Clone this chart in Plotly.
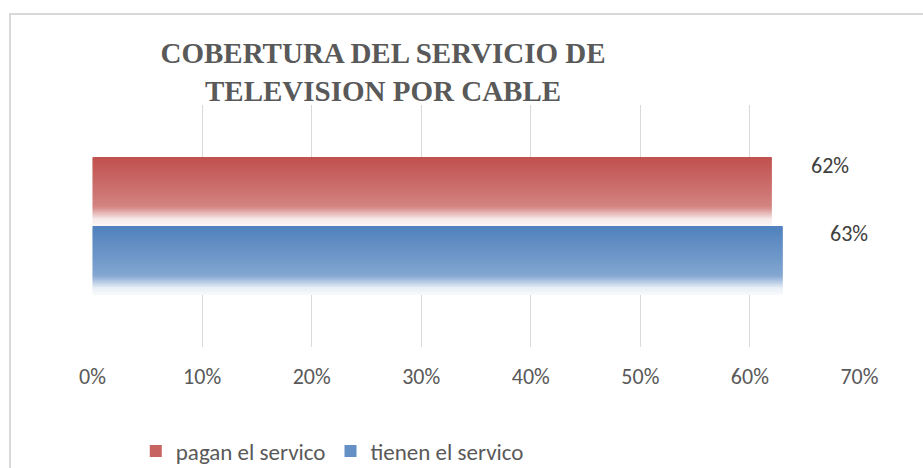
import plotly.graph_objects as go

# ---------------- data ----------------
categories = ["Cobertura"]
series_names = ["pagan el servico", "tienen el servico"]
pagan_values = [0.62]
tienen_values = [0.63]
tick_values = [0.0, 0.1, 0.2, 0.3, 0.4, 0.5, 0.6, 0.7]
tick_labels = ["0%", "10%", "20%", "30%", "40%", "50%", "60%", "70%"]
title_lines = ["COBERTURA DEL SERVICIO DE", "TELEVISION POR CABLE"]

# ---------------- style ----------------
RED = (192, 80, 77)
BLUE = (79, 129, 189)
# (position from top of bar, share of white mixed in)
GRAD_STOPS = [(0.0, 0.0), (0.5, 0.2), (0.72, 0.3), (0.8, 0.55), (0.9, 0.88), (1.0, 0.96)]
BAR_H = 0.285          # bar thickness in category units
N_SLICES = 36
TEXT_FONT = "Carlito, Lato, Open Sans, sans-serif"
GRID = "#D9D9D9"


def tint(base, t):
    for (t0, m0), (t1, m1) in zip(GRAD_STOPS[:-1], GRAD_STOPS[1:]):
        if t0 <= t <= t1:
            m = m0 + (m1 - m0) * (t - t0) / (t1 - t0)
            break
    else:
        m = GRAD_STOPS[-1][1]
    r, g, b = (round(c + (255 - c) * m) for c in base)
    return f"rgb({r},{g},{b})"


fig = go.Figure()


def add_gradient_bar(name, values, base, top):
    h = BAR_H / N_SLICES
    legend_i = int(0.3 * N_SLICES)
    for i in range(N_SLICES):
        t = (i + 0.5) / N_SLICES
        ext = 0.4 * h if i < N_SLICES - 1 else 0.0
        fig.add_trace(go.Bar(
            x=values, y=categories, orientation="h",
            width=h + ext, offset=top - (i + 1) * h - ext,
            marker=dict(color=tint(base, t), line=dict(width=0)),
            name=name, legendgroup=name, showlegend=(i == legend_i),
            hoverinfo="skip",
        ))


add_gradient_bar(series_names[0], pagan_values, RED, BAR_H)
add_gradient_bar(series_names[1], tienen_values, BLUE, 0.0)

# data labels
label_shifts = [(58, 61), (66, -7)]
for vals, (dx, dy) in zip([pagan_values, tienen_values], label_shifts):
    for cat, v in zip(categories, vals):
        fig.add_annotation(
            x=v, y=cat, xref="x", yref="y", text=f"{round(v * 100)}%",
            showarrow=False, xanchor="center", yanchor="middle",
            xshift=dx, yshift=dy,
            font=dict(family=TEXT_FONT, size=22, color="#404040"),
        )

# chart border
fig.add_shape(type="rect", xref="paper", yref="paper",
              x0=-0.1068, x1=2.0, y0=-2.0, y1=1.376,
              line=dict(color=GRID, width=2), fillcolor="rgba(0,0,0,0)", layer="below")

fig.update_layout(
    width=923, height=468,
    margin=dict(l=92, r=63, t=105, b=121, autoexpand=False),
    paper_bgcolor="white", plot_bgcolor="white",
    barmode="overlay",
    title=dict(
        text="<br>".join(title_lines),
        x=0.379, xref="paper", xanchor="center",
        y=1 - 63 / 468, yref="container", yanchor="middle",
        font=dict(family="Liberation Serif, Times New Roman, serif", size=29,
                  color="#595959", weight="bold"),
    ),
    xaxis=dict(
        range=[-0.0005, 0.7005], tickvals=tick_values, ticktext=tick_labels,
        showgrid=True, gridcolor=GRID, gridwidth=1, zeroline=False,
        showline=False, ticks="", ticklabelstandoff=14,
        tickfont=dict(family=TEXT_FONT, size=22, color="#595959"),
        fixedrange=True,
    ),
    yaxis=dict(
        type="category", range=[-0.5, 0.5], showticklabels=False,
        showgrid=False, zeroline=False, showline=False, fixedrange=True,
    ),
    legend=dict(
        orientation="h", x=0.057, xanchor="left", y=-0.43, yanchor="middle",
        font=dict(family=TEXT_FONT, size=23, color="#595959"),
        traceorder="normal", bgcolor="rgba(0,0,0,0)",
    ),
    showlegend=True,
)

fig.write_html("out.html", config={"displayModeBar": False},
               post_script="document.body.style.margin='0';")
